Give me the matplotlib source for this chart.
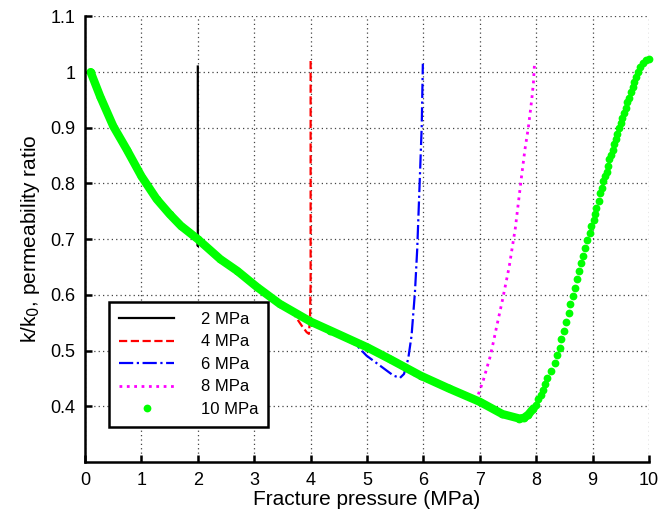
import numpy as np
import matplotlib.pyplot as plt

plt.rcParams['font.family'] = ['Liberation Sans', 'DejaVu Sans']

# 10 MPa curve, falling branch (points overlap into a solid band)
fall_x = [0.1, 0.27, 0.5, 0.74, 1.0, 1.27, 1.5, 1.7, 2.0, 2.4, 2.7, 3.05, 3.45,
          4.0, 4.35, 5.0, 5.4, 5.95, 6.45, 7.0, 7.4, 7.7, 7.78, 7.86, 7.95]
fall_y = [1.0, 0.956, 0.903, 0.861, 0.813, 0.772, 0.745, 0.724, 0.700, 0.664,
          0.643, 0.614, 0.584, 0.552, 0.536, 0.506, 0.485, 0.455, 0.432, 0.408,
          0.386, 0.378, 0.379, 0.385, 0.396]

# 10 MPa curve, rising branch (individual dots)
rise_x = [7.99, 8.04, 8.085, 8.12, 8.16, 8.20, 8.26, 8.327, 8.375,
          8.422, 8.44, 8.487, 8.528, 8.582, 8.599, 8.647, 8.694, 8.718, 8.759,
          8.789, 8.830, 8.865, 8.901, 8.954, 8.978, 9.019, 9.043, 9.066, 9.113,
          9.137, 9.161, 9.190, 9.220, 9.249, 9.279, 9.297, 9.332, 9.356, 9.385,
          9.409, 9.439, 9.468, 9.498, 9.527, 9.557, 9.586, 9.616, 9.651, 9.681,
          9.710, 9.740, 9.770, 9.799, 9.840, 9.888, 9.947, 9.994]
rise_y = [0.403, 0.413, 0.421, 0.430, 0.440, 0.450, 0.463, 0.4776,
          0.4913, 0.505, 0.521, 0.536, 0.5515, 0.5676, 0.5837, 0.5986, 0.6123,
          0.6284, 0.6422, 0.6565, 0.6702, 0.6845, 0.6988, 0.7107, 0.7238, 0.734,
          0.746, 0.7567, 0.7686, 0.7829, 0.7925, 0.8043, 0.8133, 0.8211, 0.8312,
          0.8431, 0.852, 0.861, 0.870, 0.879, 0.888, 0.899, 0.909, 0.918, 0.927,
          0.936, 0.946, 0.953, 0.964, 0.973, 0.983, 0.992, 1.001, 1.010, 1.017,
          1.022, 1.023]

# 2 MPa
p2_x = [0.1, 0.27, 0.5, 0.74, 1.0, 1.27, 1.5, 1.7, 2.0, 2.0, 2.0]
p2_y = [1.0, 0.956, 0.903, 0.861, 0.813, 0.772, 0.745, 0.724, 0.695, 0.688, 1.01]

# 4 MPa
p4_x = [0.1, 0.5, 1.0, 1.5, 2.0, 2.7, 3.45, 3.72, 3.84, 3.93, 3.97, 3.99, 4.0, 4.0]
p4_y = [1.0, 0.903, 0.813, 0.745, 0.700, 0.643, 0.584, 0.563, 0.545, 0.533,
        0.530, 0.56, 0.62, 1.02]

# 6 MPa
p6_x = [0.1, 0.5, 1.0, 1.5, 2.0, 2.7, 3.45, 4.0, 4.82, 4.99, 5.23, 5.47, 5.585,
        5.656, 5.73, 5.79, 5.85, 5.89, 5.94, 5.97, 5.99]
p6_y = [1.0, 0.903, 0.813, 0.745, 0.700, 0.643, 0.584, 0.552, 0.509, 0.491,
        0.473, 0.455, 0.451, 0.458, 0.485, 0.527, 0.605, 0.682, 0.819, 0.903, 1.015]

# 8 MPa
p8_x = [0.1, 0.5, 1.0, 1.5, 2.0, 2.7, 3.45, 4.0, 5.0, 5.94, 6.45, 6.71, 6.945,
        7.0, 7.06, 7.12, 7.18, 7.24, 7.29, 7.4, 7.52, 7.63, 7.74, 7.80, 7.86,
        7.92, 7.95, 7.97]
p8_y = [1.0, 0.903, 0.813, 0.745, 0.700, 0.643, 0.584, 0.552, 0.506, 0.450,
        0.430, 0.417, 0.413, 0.429, 0.446, 0.467, 0.488, 0.515, 0.539, 0.59,
        0.65, 0.72, 0.813, 0.861, 0.90, 0.950, 0.980, 1.016]

xticks = list(range(0, 11))
yticks = [0.4, 0.5, 0.6, 0.7, 0.8, 0.9, 1.0, 1.1]
ytick_labels = ["0.4", "0.5", "0.6", "0.7", "0.8", "0.9", "1", "1.1"]

fig = plt.figure(figsize=(6.72, 5.12), dpi=100)
ax = fig.add_axes([0.1265, 0.0977, 0.8393, 0.8703])

ax.plot(p2_x, p2_y, color="black", lw=1.6, label="2 MPa")
ax.plot(p4_x, p4_y, "--", color="red", lw=1.6, label="4 MPa")
ax.plot(p6_x, p6_y, "-.", color="blue", lw=1.6, label="6 MPa")
ax.plot(p8_x, p8_y, ":", color="magenta", lw=2.0, label="8 MPa")

green = "#00ff00"
ax.plot(fall_x, fall_y, color=green, lw=6.0, solid_capstyle="round",
        solid_joinstyle="round", clip_on=False)
ax.plot(fall_x + rise_x, fall_y + rise_y, "o", color=green, ms=5.6, mew=0,
        label="10 MPa", clip_on=False)

ax.set_xlim(0, 10)
ax.set_ylim(0.3, 1.1)
ax.set_xticks(xticks)
ax.set_yticks(yticks)
ax.set_yticklabels(ytick_labels)

ax.grid(True, linestyle=(0, (1, 2.5)), color="#444444", lw=0.9)
ax.tick_params(direction="in", length=5, width=1.8, labelsize=13, pad=7)
for side in ["top", "right"]:
    ax.spines[side].set_visible(False)
for side in ["left", "bottom"]:
    ax.spines[side].set_linewidth(1.8)

ax.set_xlabel("Fracture pressure (MPa)", fontsize=15, labelpad=1)
ax.set_ylabel(r"k/k$_0$, permeability ratio", fontsize=15, labelpad=6)

leg = ax.legend(loc="lower left", bbox_to_anchor=(0.0426, 0.0785),
                borderaxespad=0, fontsize=12, handlelength=3.3,
                handletextpad=1.6, fancybox=False, framealpha=1,
                edgecolor="black", borderpad=0.6, labelspacing=0.45)
leg.get_frame().set_linewidth(1.8)

plt.savefig("out.png", dpi=100)
